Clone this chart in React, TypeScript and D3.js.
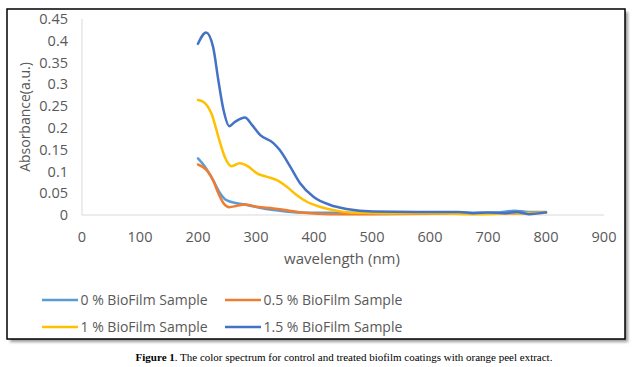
import React from "react";
import * as d3 from "d3";

const xTicks = [0, 100, 200, 300, 400, 500, 600, 700, 800, 900];
const yTicks = [0, 0.05, 0.1, 0.15, 0.2, 0.25, 0.3, 0.35, 0.4, 0.45];

const seriesNames = ["0 % BioFilm Sample", "0.5 % BioFilm Sample", "1 % BioFilm Sample", "1.5 % BioFilm Sample"];
const seriesColors = ["#5B9BD5", "#ED7D31", "#FFC000", "#4472C4"];

const wl0 = [200, 212, 226, 238, 249, 267, 284, 313, 341, 370, 420, 500, 600, 680, 720, 745, 770, 800];
const abs0 = [0.13, 0.111, 0.08, 0.05, 0.034, 0.027, 0.023, 0.015, 0.01, 0.006, 0.005, 0.005, 0.005, 0.005, 0.006, 0.01, 0.007, 0.007];

const wl05 = [200, 215, 226, 235, 244, 254, 267, 281, 301, 330, 353, 382, 428, 500, 600, 700, 800];
const abs05 = [0.116, 0.103, 0.08, 0.05, 0.027, 0.018, 0.021, 0.024, 0.019, 0.015, 0.011, 0.005, 0.002, 0.002, 0.003, 0.003, 0.005];

const wl1 = [200, 209, 224, 235, 246, 258, 272, 287, 301, 318, 336, 353, 370, 387, 410, 439, 468, 520, 600, 680, 740, 800];
const abs1 = [0.264, 0.26, 0.23, 0.18, 0.134, 0.112, 0.119, 0.111, 0.096, 0.088, 0.08, 0.065, 0.046, 0.031, 0.019, 0.01, 0.005, 0.004, 0.004, 0.002, 0.004, 0.005];

const wl15 = [200, 214, 226, 235, 244, 254, 264, 281, 293, 307, 330, 341, 359, 376, 399, 428, 456, 502, 600, 650, 675, 700, 730, 750, 770, 800];
const abs15 = [0.393, 0.419, 0.386, 0.31, 0.241, 0.204, 0.214, 0.224, 0.207, 0.184, 0.165, 0.149, 0.111, 0.073, 0.042, 0.023, 0.014, 0.008, 0.007, 0.007, 0.004, 0.006, 0.004, 0.007, 0.002, 0.006];

const seriesX = [wl0, wl05, wl1, wl15];
const seriesY = [abs0, abs05, abs1, abs15];

const captionBold = "Figure 1";
const captionRest = ". The color spectrum for control and treated biofilm coatings with orange peel extract.";

const FONT = "'Open Sans', sans-serif";
const GRAY = "#595959";

export default function App() {
  const x = d3.scaleLinear().domain([0, 900]).range([82, 604]);
  const y = d3.scaleLinear().domain([0, 0.45]).range([215, 19]);
  const line = d3
    .line<[number, number]>()
    .x((d) => x(d[0]))
    .y((d) => y(d[1]))
    .curve(d3.curveMonotoneX);

  const fmt = (v: number) => String(+v.toFixed(2));

  const legendPos = [
    [42, 300],
    [225, 300],
    [42, 327],
    [225, 327],
  ];

  return (
    <svg
      width={634}
      height={367}
      style={{ position: "absolute", left: 0, top: 0, background: "#fff" }}
    >
      <defs>
        <filter id="sh" x="-5%" y="-5%" width="110%" height="110%">
          <feGaussianBlur stdDeviation="1.5" />
        </filter>
      </defs>
      <rect x={10} y={12} width={618} height={330} fill="#9a9a9a" filter="url(#sh)" />
      <rect x={7} y={9} width={618} height={330} fill="#fff" stroke="#000" strokeWidth={1.5} />

      {/* axes */}
      <line x1={x(0)} x2={x(900)} y1={y(0)} y2={y(0)} stroke="#d9d9d9" strokeWidth={1} />
      <line x1={x(0)} x2={x(0)} y1={y(0)} y2={y(0.45)} stroke="#d9d9d9" strokeWidth={1} />

      {yTicks.map((t) => (
        <text
          key={"y" + t}
          x={68}
          y={y(t)}
          dy="0.35em"
          textAnchor="end"
          fontFamily={FONT}
          fontSize={14.5}
          fill={GRAY}
        >
          {fmt(t)}
        </text>
      ))}
      {xTicks.map((t) => (
        <text
          key={"x" + t}
          x={x(t)}
          y={237}
          dy="0.35em"
          textAnchor="middle"
          fontFamily={FONT}
          fontSize={14.5}
          fill={GRAY}
        >
          {t}
        </text>
      ))}

      <text
        transform="translate(25,117) rotate(-90)"
        textAnchor="middle"
        dy="0.35em"
        fontFamily={FONT}
        fontSize={14}
        fill={GRAY}
      >
        Absorbance(a.u.)
      </text>
      <text
        x={342}
        y={259}
        dy="0.35em"
        textAnchor="middle"
        fontFamily={FONT}
        fontSize={15}
        fill={GRAY}
      >
        wavelength (nm)
      </text>

      {seriesX.map((xs, i) => {
        const pts = xs.map((w, j) => [w, seriesY[i][j]] as [number, number]);
        return (
          <path
            key={"s" + i}
            d={line(pts) || ""}
            fill="none"
            stroke={seriesColors[i]}
            strokeWidth={2.5}
            strokeLinejoin="round"
            strokeLinecap="round"
          />
        );
      })}

      {seriesNames.map((n, i) => (
        <g key={"l" + i} transform={`translate(${legendPos[i][0]},${legendPos[i][1]})`}>
          <line x1={0} x2={36} y1={0} y2={0} stroke={seriesColors[i]} strokeWidth={2.5} />
          <text x={38.5} y={0} dy="0.35em" fontFamily={FONT} fontSize={14} fill={GRAY}>
            {n}
          </text>
        </g>
      ))}

      <text
        x={344}
        y={357}
        dy="0.35em"
        textAnchor="middle"
        fontFamily="'Liberation Serif', 'Times New Roman', serif"
        fontSize={11}
        fill="#000"
      >
        <tspan fontWeight="bold">{captionBold}</tspan>
        <tspan>{captionRest}</tspan>
      </text>
    </svg>
  );
}
